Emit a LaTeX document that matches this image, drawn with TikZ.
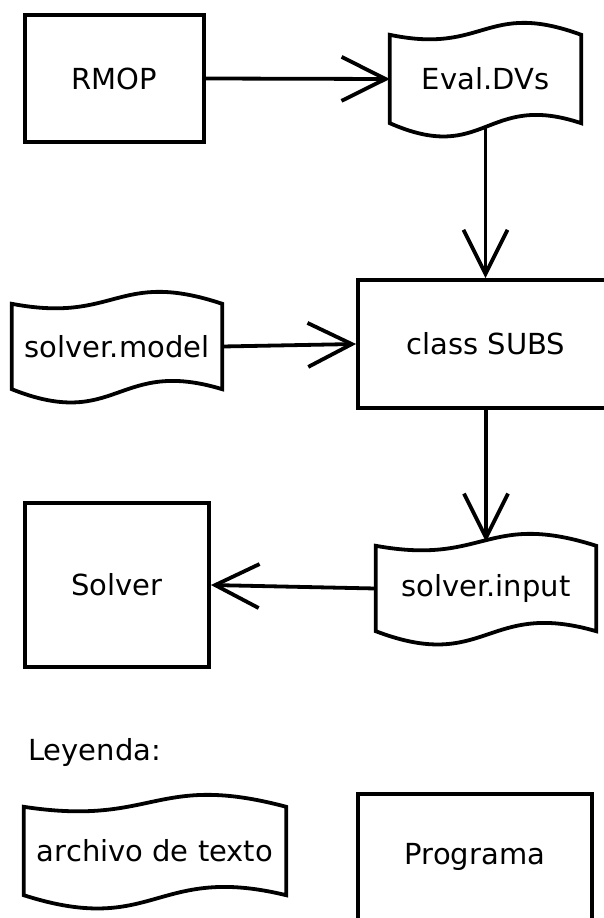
\documentclass[tikz,border=0pt]{standalone}
\usepackage{fontspec}
\setmainfont{DejaVu Sans}
\usetikzlibrary{arrows.meta,calc}
\tikzset{
  lw/.style={line width=3.8pt},
  boxnode/.style={draw, lw, inner sep=0pt, font=\fontsize{29}{34}\selectfont},
  docnode/.style={draw=none, inner sep=0pt, font=\fontsize{29}{34}\selectfont},
  conn/.style={lw, -{Straight Barb[length=44pt,width=44pt,line width=3.8pt]}},
}
\newcommand\wavyoutline[1]{%
  \draw[lw, line join=miter] (#1.north west) .. controls ($(#1.north)+(0,20)$) and ($(#1.north)+(0,-35)$) .. (#1.north east)
    -- (#1.south east) .. controls ($(#1.south)+(0,-32)$) and ($(#1.south)+(0,42)$) .. (#1.south west) -- cycle;}
\begin{document}
\begin{tikzpicture}[x=1pt,y=-1pt]
\clip (0,0) rectangle (604,918);
\fill[white] (0,0) rectangle (604,918);

\node[boxnode, minimum width=179pt, minimum height=127pt] (rmop) at (114.5,78.5) {RMOP};
\node[docnode, minimum width=191pt, minimum height=88pt] (evaldv) at (485.5,79) {Eval.DVs};
\wavyoutline{evaldv}

\node[boxnode, minimum width=256pt, minimum height=128pt] (subs) at (486,344) {class SUBS};
\node[docnode, minimum width=210pt, minimum height=85pt] (smodel) at (117,346.5) {solver.model};
\wavyoutline{smodel}

\node[docnode, minimum width=220pt, minimum height=85pt] (sinput) at (486,588.5) {solver.input};
\wavyoutline{sinput}
\node[boxnode, minimum width=184pt, minimum height=164pt] (solver) at (117,585) {Solver};

\node[docnode, anchor=west] (leyenda) at (28,752) {Leyenda:};
\node[docnode, minimum width=262pt, minimum height=88pt] (archivo) at (155,851) {archivo de texto};
\wavyoutline{archivo}
\node[boxnode, minimum width=234pt, minimum height=140pt, text depth=0pt] (programa) at (475,864) {};
\node[docnode] (programatext) at (475,857) {Programa};

\draw[conn] (rmop.east) -- (evaldv.west);
\draw[conn, shorten <=3pt] (evaldv.south) -- (evaldv.south |- subs.north);
\draw[conn] (smodel.east) -- (subs.west);
\draw[conn] (subs.south) -- ($(subs.south |- sinput.north)+(0,-4)$);
\draw[conn] (sinput.west) -- (solver.east);
\end{tikzpicture}
\end{document}
